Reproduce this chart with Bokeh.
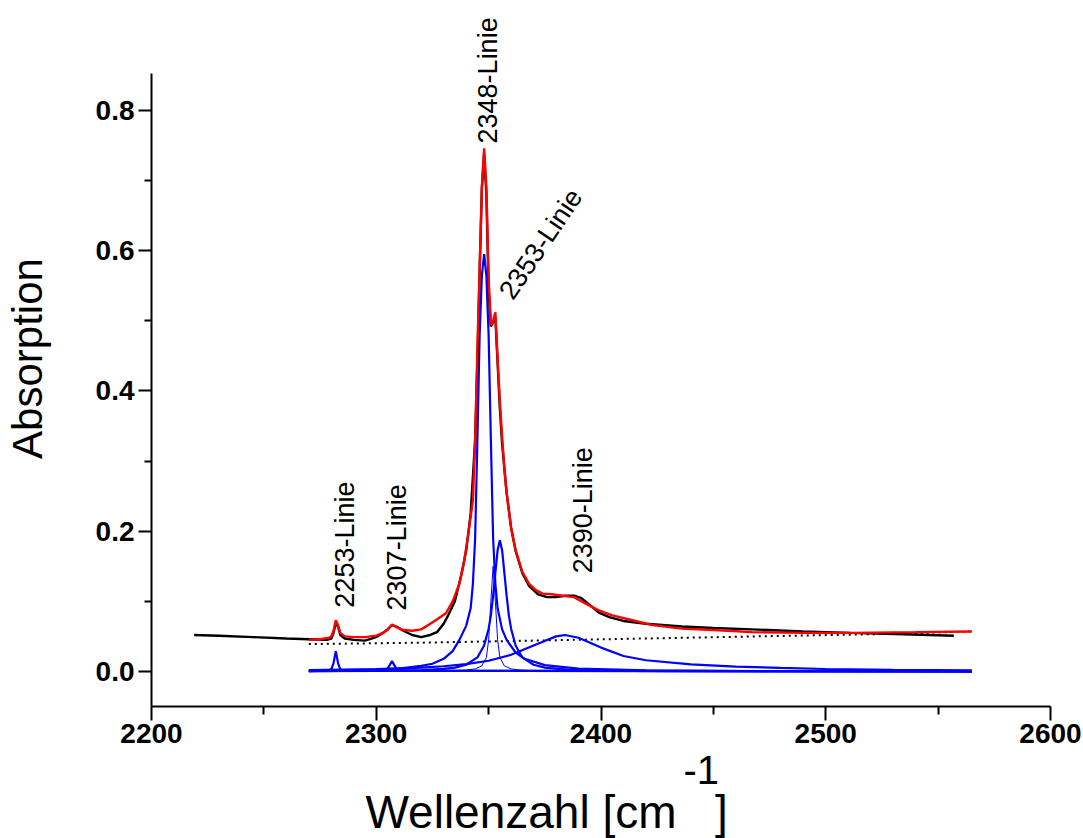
from bokeh.plotting import figure
from bokeh.models import Range1d, Label, FixedTicker, Title
from bokeh.embed import file_html
from bokeh.resources import INLINE

# ---------------- data ----------------
# measured spectrum (black)
meas_x = [2219, 2230, 2245, 2260, 2270, 2278, 2280, 2281, 2282, 2283, 2284, 2286,
          2290, 2295, 2300, 2303, 2305, 2307, 2309, 2312, 2316, 2320, 2324, 2327,
          2330, 2332, 2335, 2338, 2340, 2342, 2344, 2345, 2346, 2347, 2348, 2349,
          2350, 2351, 2352, 2353, 2354, 2355, 2356, 2358, 2360, 2362, 2365, 2368,
          2372, 2376, 2380, 2384, 2388, 2391, 2395, 2399, 2404, 2410, 2420, 2436,
          2450, 2467, 2490, 2511, 2535, 2557]
meas_y = [0.052, 0.051, 0.049, 0.047, 0.046, 0.045, 0.047, 0.055, 0.069, 0.064, 0.052, 0.047,
          0.045, 0.044, 0.049, 0.055, 0.060, 0.066, 0.064, 0.058, 0.052, 0.049, 0.052, 0.056,
          0.068, 0.080, 0.100, 0.140, 0.172, 0.225, 0.330, 0.440, 0.570, 0.690, 0.738, 0.680,
          0.545, 0.492, 0.498, 0.505, 0.440, 0.375, 0.325, 0.255, 0.205, 0.172, 0.140, 0.122,
          0.110, 0.106, 0.106, 0.108, 0.108, 0.105, 0.095, 0.084, 0.077, 0.072, 0.068, 0.064,
          0.062, 0.060, 0.057, 0.055, 0.053, 0.051]

# cumulative fit (red)
fit_x = [2270, 2275, 2279, 2280, 2281, 2282, 2283, 2284, 2286, 2290, 2295, 2300,
         2303, 2305, 2307, 2309, 2312, 2316, 2320, 2323, 2327, 2331, 2334, 2337,
         2339, 2341, 2343, 2344, 2345, 2346, 2347, 2348, 2349, 2350, 2351, 2351.5,
         2353, 2354, 2355, 2356, 2357, 2358, 2359, 2360, 2362, 2365, 2368, 2371,
         2374, 2378, 2383, 2388, 2393, 2399, 2405, 2414, 2423, 2436, 2450, 2467,
         2490, 2511, 2540, 2565]
fit_y = [0.045, 0.046, 0.048, 0.050, 0.058, 0.073, 0.066, 0.055, 0.050, 0.049, 0.049, 0.051,
         0.055, 0.059, 0.067, 0.063, 0.059, 0.058, 0.060, 0.066, 0.074, 0.083, 0.100, 0.125,
         0.155, 0.197, 0.244, 0.330, 0.460, 0.575, 0.690, 0.746, 0.690, 0.560, 0.497, 0.494,
         0.512, 0.445, 0.385, 0.335, 0.290, 0.255, 0.230, 0.205, 0.173, 0.142, 0.125, 0.116,
         0.111, 0.110, 0.108, 0.106, 0.097, 0.087, 0.080, 0.073, 0.066, 0.061, 0.059, 0.056,
         0.055, 0.055, 0.056, 0.057]

# baseline (dotted)
base_x = [2270, 2320, 2370, 2420, 2470, 2520, 2565]
base_y = [0.039, 0.041, 0.044, 0.047, 0.050, 0.053, 0.057]

# fitted single lines (blue)
p2283_x = [2270, 2278, 2280, 2281, 2282, 2283, 2284, 2286, 2565]
p2283_y = [0.0005, 0.001, 0.003, 0.012, 0.029, 0.012, 0.003, 0.001, 0.0002]

p2307_x = [2270, 2300, 2304, 2305, 2306, 2307, 2308, 2309, 2310, 2314, 2565]
p2307_y = [0.0003, 0.001, 0.002, 0.004, 0.009, 0.015, 0.009, 0.004, 0.002, 0.001, 0.0001]

p2348_x = [2270, 2290, 2310, 2320, 2325, 2330, 2334, 2337, 2340, 2342, 2343, 2344,
           2345, 2346, 2347, 2348, 2349, 2350, 2351, 2352, 2353, 2354, 2356, 2358,
           2362, 2366, 2375, 2390, 2420, 2470, 2565]
p2348_y = [0.001, 0.0015, 0.004, 0.008, 0.011, 0.018, 0.029, 0.045, 0.065, 0.090, 0.125, 0.190,
           0.330, 0.480, 0.565, 0.595, 0.565, 0.480, 0.330, 0.190, 0.125, 0.090, 0.060, 0.045,
           0.027, 0.018, 0.009, 0.004, 0.0015, 0.0006, 0.0002]

p2355_x = [2270, 2300, 2320, 2330, 2335, 2340, 2345, 2348, 2350, 2351, 2352, 2353,
           2354, 2355, 2356, 2357, 2358, 2359, 2360, 2362, 2365, 2370, 2375, 2385,
           2400, 2430, 2480, 2565]
p2355_y = [0.0003, 0.0008, 0.002, 0.0037, 0.0055, 0.0096, 0.020, 0.037, 0.061, 0.080, 0.108, 0.141,
           0.173, 0.187, 0.173, 0.141, 0.108, 0.080, 0.061, 0.037, 0.020, 0.0096, 0.0055, 0.0025,
           0.0011, 0.0004, 0.0002, 0.0001]

p2352_x = [2270, 2320, 2335, 2340, 2344, 2347, 2349, 2350, 2351, 2352, 2353, 2354,
           2355, 2357, 2360, 2364, 2370, 2385, 2565]
p2352_y = [0.0001, 0.0004, 0.0011, 0.002, 0.0035, 0.008, 0.020, 0.045, 0.100, 0.150, 0.100, 0.045,
           0.020, 0.008, 0.0035, 0.002, 0.001, 0.0004, 0.0001]

p2384_x = [2270, 2300, 2320, 2330, 2340, 2350, 2360, 2370, 2380, 2384, 2390, 2400,
           2410, 2420, 2440, 2460, 2480, 2500, 2530, 2565]
p2384_y = [0.0019, 0.0033, 0.0055, 0.0074, 0.0104, 0.0153, 0.0237, 0.037, 0.050, 0.052, 0.048, 0.034,
           0.022, 0.016, 0.010, 0.007, 0.005, 0.0035, 0.0022, 0.0015]

# peak annotations: text, x, y, angle
ann_text = ["2253-Linie", "2307-Linie", "2348-Linie", "2353-Linie", "2390-Linie"]
ann_x = [2286.3, 2309.1, 2349.9, 2357.5, 2392.0]
ann_y = [0.091, 0.087, 0.753, 0.535, 0.140]
ann_angle = [90, 90, 90, 56, 90]

x_ticks = [2200, 2300, 2400, 2500, 2600]
x_minor = [2250, 2350, 2450, 2550]
y_ticks = [0.0, 0.2, 0.4, 0.6, 0.8]
y_minor = [0.1, 0.3, 0.5, 0.7]

x_title = "Wellenzahl [cm\u00a0\u00a0\u00a0]"
x_title_sup = "-1"

# ---------------- figure ----------------
FONT = "Liberation Sans"
p = figure(width=1083, height=838, output_backend="svg", toolbar_location=None,
           x_range=Range1d(2200, 2600), y_range=Range1d(-0.05, 0.9426),
           min_border_left=148, min_border_right=33, min_border_top=10,
           min_border_bottom=132)
p.outline_line_color = None
p.xgrid.visible = False
p.ygrid.visible = False

for ax in (p.xaxis[0], p.yaxis[0]):
    ax.axis_line_width = 2
    ax.axis_line_color = "black"
    ax.major_tick_line_width = 2
    ax.minor_tick_line_width = 2
    ax.major_tick_in = 0
    ax.minor_tick_in = 0
    ax.major_label_text_font = FONT
    ax.major_label_text_font_style = "bold"
    ax.major_label_text_font_size = "28px"
    ax.major_label_text_color = "black"

p.xaxis.ticker = FixedTicker(ticks=x_ticks, minor_ticks=x_minor)
p.yaxis.ticker = FixedTicker(ticks=y_ticks, minor_ticks=y_minor)
p.yaxis.bounds = (-0.05, 0.853)
p.xaxis.major_tick_out = 14
p.xaxis.minor_tick_out = 8
p.yaxis.major_tick_out = 13
p.yaxis.minor_tick_out = 7
p.xaxis.major_label_standoff = 3
p.yaxis.major_label_standoff = 4
p.yaxis.major_label_overrides = {0.0: "0.0", 0.2: "0.2", 0.4: "0.4", 0.6: "0.6", 0.8: "0.8"}

p.yaxis.axis_label = "Absorption"
p.yaxis.axis_label_text_font = FONT
p.yaxis.axis_label_text_font_style = "normal"
p.yaxis.axis_label_text_font_size = "42px"
p.yaxis.axis_label_text_color = "black"
p.yaxis.axis_label_standoff = 42

# x-axis title: superscript row first (nearest the axis), then the main row
p.add_layout(Title(text=x_title_sup, align="left", offset=532, vertical_align="bottom",
                   text_font=FONT, text_font_size="40px", text_font_style="normal",
                   text_color="black", standoff=17), "below")
p.add_layout(Title(text=x_title, align="left", offset=214, vertical_align="bottom",
                   text_font=FONT, text_font_size="46px", text_font_style="normal",
                   text_color="black", standoff=-17), "below")

# curves
p.line(base_x, base_y, line_color="black", line_width=2, line_dash="2 4")
for xs, ys in [(p2283_x, p2283_y), (p2307_x, p2307_y), (p2348_x, p2348_y),
               (p2355_x, p2355_y), (p2384_x, p2384_y)]:
    p.line(xs, ys, line_color="#0000ff", line_width=2.2)
p.line(p2352_x, p2352_y, line_color="#0000ff", line_width=1)
p.line(meas_x, meas_y, line_color="black", line_width=2.4)
p.line(fit_x, fit_y, line_color="#ff0000", line_width=2.4)

# peak labels
for t, x, y, a in zip(ann_text, ann_x, ann_y, ann_angle):
    p.add_layout(Label(x=x, y=y, text=t, angle=a, angle_units="deg",
                       text_font=FONT, text_font_size="27px", text_color="black",
                       text_align="left", text_baseline="middle"))

open("out.html", "w").write(file_html(p, INLINE))
